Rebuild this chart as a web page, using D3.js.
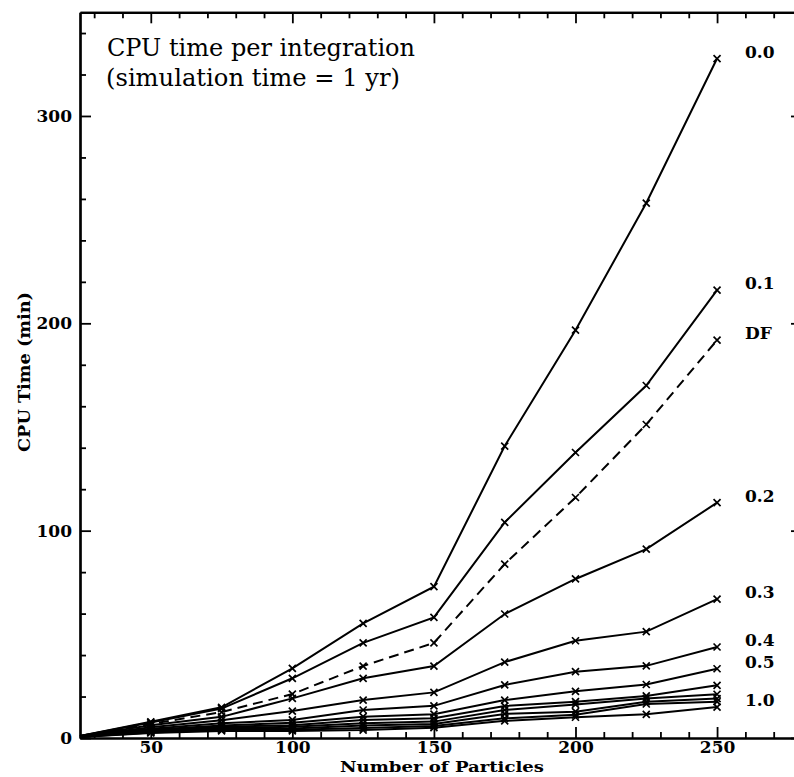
<!DOCTYPE html>
<html>
<head>
<meta charset="utf-8">
<script src="https://cdn.jsdelivr.net/npm/d3@7/dist/d3.min.js"></script>
<style>
  body { margin: 0; background: #fff; }
  svg { display: block; }
</style>
</head>
<body>
<div id="chart"></div>
<script>
// number of particles (x)
const particles = [25, 50, 75, 100, 125, 150, 175, 200, 225, 250];

// CPU time in minutes, one array per curve
const cpu_00 = [1.0, 7.8, 14.8, 33.6, 55.3, 73.0, 140.8, 196.7, 258.0, 327.7];
const cpu_01 = [1.0, 7.5, 14.2, 28.8, 45.9, 58.2, 104.0, 137.7, 170.0, 216.0];
const cpu_DF = [1.0, 6.8, 12.5, 21.2, 34.7, 45.9, 83.9, 116.0, 151.2, 191.9];
const cpu_02 = [0.9, 6.2, 10.2, 19.1, 28.8, 34.7, 59.8, 76.7, 91.1, 113.5];
const cpu_03 = [0.8, 5.2, 8.6, 13.0, 18.3, 22.0, 36.6, 46.9, 51.3, 67.0];
const cpu_04 = [0.8, 4.5, 7.1, 8.7, 13.5, 15.5, 25.6, 32.0, 34.8, 43.9];
const cpu_05 = [0.7, 4.0, 6.0, 7.4, 10.3, 11.5, 18.3, 22.5, 25.8, 33.4];
const cpu_06 = [0.7, 3.6, 5.4, 6.2, 8.7, 9.5, 15.4, 17.5, 20.3, 25.4];
const cpu_07 = [0.6, 3.3, 4.8, 5.4, 7.1, 7.9, 13.5, 16.2, 19.1, 21.1];
const cpu_08 = [0.6, 3.0, 4.3, 4.6, 6.0, 6.8, 11.6, 12.7, 17.5, 19.0];
const cpu_09 = [0.5, 2.7, 3.9, 4.0, 4.8, 5.8, 9.5, 11.2, 16.4, 17.5];
const cpu_10 = [0.5, 2.4, 3.4, 3.4, 3.8, 5.0, 8.3, 10.0, 11.4, 14.9];

const curveNames = ["0.0", "0.1", "DF", "0.2", "0.3", "0.4", "0.5", "0.6", "0.7", "0.8", "0.9", "1.0"];
const curveValues = [cpu_00, cpu_01, cpu_DF, cpu_02, cpu_03, cpu_04, cpu_05, cpu_06, cpu_07, cpu_08, cpu_09, cpu_10];
const labelledCurves = ["0.0", "0.1", "DF", "0.2", "0.3", "0.4", "0.5", "1.0"];

const xMajor = [50, 100, 150, 200, 250];
const yMajor = [0, 100, 200, 300];

function cpuChart() {
    var svgWidth = 794, svgHeight = 777;

    var svg = d3.select("#chart")
        .append("svg")
        .attr("width", svgWidth)
        .attr("height", svgHeight);

    const x = d3.scaleLinear()
        .domain([25, 280])
        .range([80, 802]);

    const y = d3.scaleLinear()
        .domain([0, 350])
        .range([738, 12.3]);

    const xMinor = d3.range(30, 281, 10).filter((d) => d % 50 !== 0);
    const yMinor = d3.range(20, 350, 20).filter((d) => d % 100 !== 0);

    const tickFont = "DejaVu Serif";

    // frame axes, ticks pointing inwards
    function styleAxis(g) {
        g.select(".domain").attr("stroke", "#000").attr("stroke-width", 2.2);
        g.selectAll(".tick line").attr("stroke", "#000").attr("stroke-width", 1.8);
        g.selectAll("text")
            .attr("font-family", tickFont)
            .attr("font-weight", "bold")
            .attr("font-size", 17)
            .attr("fill", "#000");
    }

    // bottom
    svg.append("g")
        .attr("transform", "translate(0," + y(0) + ")")
        .call(d3.axisBottom(x).tickValues(xMajor).tickSize(-11).tickSizeOuter(0).tickPadding(3))
        .call(styleAxis);
    svg.append("g")
        .attr("transform", "translate(0," + y(0) + ")")
        .call(d3.axisBottom(x).tickValues(xMinor).tickSize(-6).tickSizeOuter(0).tickFormat(""))
        .call(styleAxis);

    // top
    svg.append("g")
        .attr("transform", "translate(0," + y(350) + ")")
        .call(d3.axisTop(x).tickValues(xMajor).tickSize(-11).tickSizeOuter(0).tickFormat(""))
        .call(styleAxis);
    svg.append("g")
        .attr("transform", "translate(0," + y(350) + ")")
        .call(d3.axisTop(x).tickValues(xMinor).tickSize(-6).tickSizeOuter(0).tickFormat(""))
        .call(styleAxis);

    // left
    svg.append("g")
        .attr("transform", "translate(" + x(25) + ",0)")
        .call(d3.axisLeft(y).tickValues(yMajor).tickSize(-11).tickSizeOuter(0).tickPadding(8))
        .call(styleAxis);
    svg.append("g")
        .attr("transform", "translate(" + x(25) + ",0)")
        .call(d3.axisLeft(y).tickValues(yMinor).tickSize(-6).tickSizeOuter(0).tickFormat(""))
        .call(styleAxis);

    // right
    svg.append("g")
        .attr("transform", "translate(" + x(280) + ",0)")
        .call(d3.axisRight(y).tickValues(yMajor).tickSize(-11).tickSizeOuter(0).tickFormat(""))
        .call(styleAxis);
    svg.append("g")
        .attr("transform", "translate(" + x(280) + ",0)")
        .call(d3.axisRight(y).tickValues(yMinor).tickSize(-6).tickSizeOuter(0).tickFormat(""))
        .call(styleAxis);

    // axis titles
    svg.append("text")
        .attr("x", 442)
        .attr("y", 772)
        .attr("text-anchor", "middle")
        .attr("font-family", tickFont)
        .attr("font-weight", "bold")
        .attr("font-size", 15.5)
        .attr("textLength", 204)
        .attr("lengthAdjust", "spacingAndGlyphs")
        .text("Number of Particles");

    svg.append("text")
        .attr("transform", "translate(30,372) rotate(-90)")
        .attr("text-anchor", "middle")
        .attr("font-family", tickFont)
        .attr("font-weight", "bold")
        .attr("font-size", 16.5)
        .attr("textLength", 160)
        .attr("lengthAdjust", "spacingAndGlyphs")
        .text("CPU Time (min)");

    // title block in the upper left
    svg.append("text")
        .attr("x", 107)
        .attr("y", 56)
        .attr("font-family", tickFont)
        .attr("font-size", 24)
        .attr("textLength", 308)
        .attr("lengthAdjust", "spacingAndGlyphs")
        .text("CPU time per integration");
    svg.append("text")
        .attr("x", 106)
        .attr("y", 86)
        .attr("font-family", tickFont)
        .attr("font-size", 24)
        .attr("textLength", 294)
        .attr("lengthAdjust", "spacingAndGlyphs")
        .text("(simulation time = 1 yr)");

    // curves
    let chart_data = curveNames.map((name, i) => {
        return { name: name, values: particles.map((n, j) => [n, curveValues[i][j]]) };
    });

    const line = d3.line()
        .x((d) => x(d[0]))
        .y((d) => y(d[1]));

    svg.selectAll(".curve")
        .data(chart_data)
        .join("path")
        .attr("class", "curve")
        .attr("fill", "none")
        .attr("stroke", "#000")
        .attr("stroke-width", 2)
        .attr("stroke-dasharray", (d) => d.name === "DF" ? "10,6" : null)
        .attr("d", (d) => line(d.values));

    // x markers (none drawn at the origin point)
    svg.selectAll(".marks")
        .data(chart_data)
        .join("g")
        .attr("class", "marks")
        .selectAll("path")
        .data((d) => d.values.filter((v) => v[0] >= 50))
        .join("path")
        .attr("transform", (d) => "translate(" + x(d[0]) + "," + y(d[1]) + ")")
        .attr("d", "M-3.5,-3.5L3.5,3.5M-3.5,3.5L3.5,-3.5")
        .attr("stroke", "#000")
        .attr("stroke-width", 1.7);

    // curve labels at the right
    svg.selectAll(".curveLabel")
        .data(chart_data.filter((d) => labelledCurves.includes(d.name)))
        .join("text")
        .attr("class", "curveLabel")
        .attr("x", 745)
        .attr("y", (d) => y(d.values[d.values.length - 1][1]) - 7)
        .attr("dominant-baseline", "central")
        .attr("font-family", tickFont)
        .attr("font-weight", "bold")
        .attr("font-size", 17)
        .text((d) => d.name);
}

cpuChart();
</script>
</body>
</html>
